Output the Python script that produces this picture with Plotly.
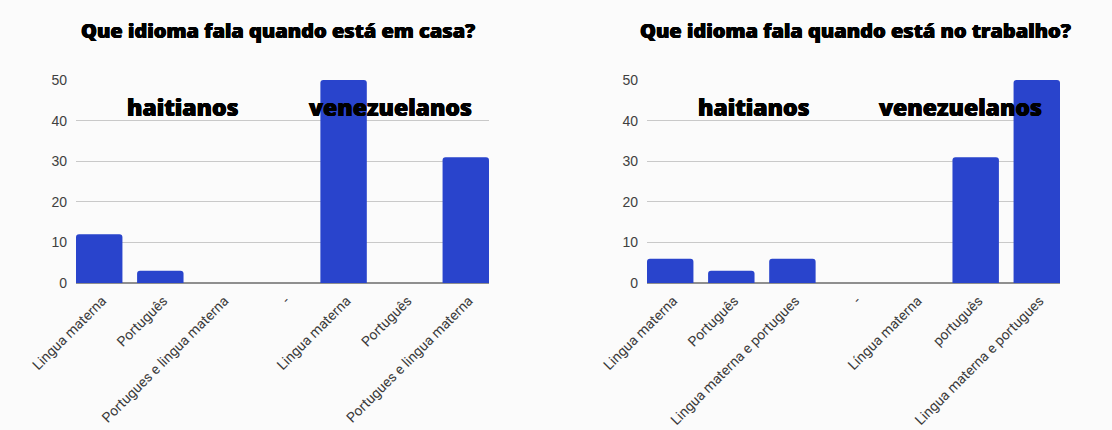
import plotly.graph_objects as go

# Respostas: idioma falado em casa
casa_labels = ["Lingua materna", "Português", "Portugues e lingua materna", "-",
               "Lingua materna", "Português", "Portugues e lingua materna"]
casa_values = [12, 3, 0, 0, 50, 0, 31]

# Respostas: idioma falado no trabalho
trabalho_labels = ["Lingua materna", "Português", "Lingua materna e portugues", "-",
                   "Língua materna", "português", "Lingua materna e portugues"]
trabalho_values = [6, 3, 6, 0, 0, 31, 50]

y_ticks = [0, 10, 20, 30, 40, 50]

titles = ["Que idioma fala quando está em casa?", "Que idioma fala quando está no trabalho?"]
groups = ["haitianos", "venezuelanos"]

BAR = "#2944cc"
W, H = 1112, 430
HEAVY = "0.45px 0 0 #000, -0.45px 0 0 #000, 0 0.3px 0 #000"

fig = go.Figure()

panels = [
    (casa_labels, casa_values, "x", "y", (76, 489)),
    (trabalho_labels, trabalho_values, "x2", "y2", (647, 1060)),
]

y_dom = [1 - 283 / H, 1 - 80 / H]

for i, (labels, values, xa, ya, (px0, px1)) in enumerate(panels):
    pos = list(range(len(labels)))
    fig.add_trace(go.Bar(
        x=pos, y=values, xaxis=xa, yaxis=ya,
        marker=dict(color=BAR, line=dict(width=0), cornerradius=3),
        showlegend=False, hoverinfo="skip",
    ))
    sfx = "" if i == 0 else "2"
    fig.layout["xaxis" + sfx] = dict(
        domain=[px0 / W, px1 / W], anchor="y" + sfx, automargin=False,
        range=[-0.38, len(labels) - 1 + 0.38],
        tickmode="array", tickvals=pos, ticktext=labels, tickangle=-45,
        tickfont=dict(family="Roboto", size=14, color="#3a3a3a"),
        ticklabelshift=3, ticklabelstandoff=6,
        showgrid=False, zeroline=False, showline=False, ticks="", fixedrange=True,
    )
    fig.layout["yaxis" + sfx] = dict(
        domain=y_dom, anchor="x" + sfx, range=[0, 50], automargin=False,
        tickmode="array", tickvals=y_ticks,
        tickfont=dict(family="Liberation Sans", size=14, color="#404040"),
        showgrid=True, gridcolor="#c9c9c9", gridwidth=1,
        zeroline=True, zerolinecolor="#8f8f8f", zerolinewidth=1.5,
        showline=False, ticks="", ticklabelstandoff=8, fixedrange=True,
    )

# Títulos e rótulos dos grupos
title_centers = [(76 + 479) / 2, (634 + 1076) / 2]
group_centers = [[(127 + 239) / 2, (307 + 473) / 2], [(698 + 810) / 2, (878 + 1043) / 2]]
annotations = []
for t, cx in zip(titles, title_centers):
    annotations.append(dict(
        text=t, x=cx / W, y=1 - 30 / H, xref="paper", yref="paper",
        xanchor="center", yanchor="middle", showarrow=False,
        font=dict(family="Open Sans", size=20, color="#000000", weight=800, shadow=HEAVY),
    ))
for centers in group_centers:
    for g, cx in zip(groups, centers):
        annotations.append(dict(
            text=g, x=cx / W, y=1 - 107 / H, xref="paper", yref="paper",
            xanchor="center", yanchor="middle", showarrow=False,
            font=dict(family="Open Sans", size=23, color="#000000", weight=800, shadow=HEAVY),
        ))

fig.update_layout(
    width=W, height=H,
    margin=dict(l=0, r=0, t=0, b=0, autoexpand=False),
    paper_bgcolor="#fbfbfb", plot_bgcolor="#fbfbfb",
    bargap=0.24,
    annotations=annotations,
)

fig.write_html("out.html", config={"displayModeBar": False})
